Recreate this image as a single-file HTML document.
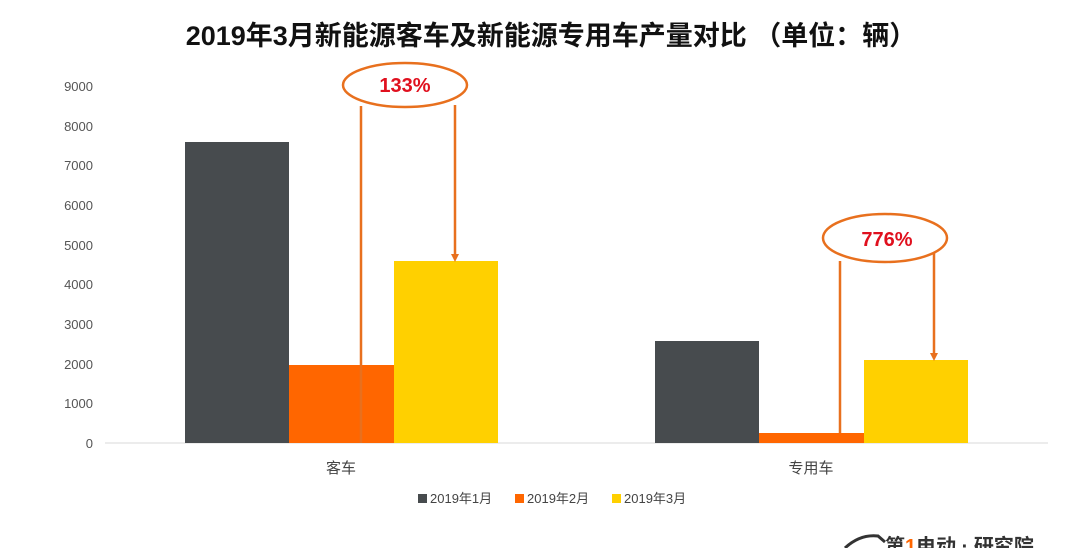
<!DOCTYPE html>
<html><head><meta charset="utf-8"><style>
body{margin:0;background:#fff;}
svg{display:block;font-family:"Liberation Sans","Noto Sans CJK SC",sans-serif;}
</style></head><body>
<svg width="1080" height="548" viewBox="0 0 1080 548">
<text x="551" y="45" text-anchor="middle" font-size="27" font-weight="bold" fill="#111">2019年3月新能源客车及新能源专用车产量对比 （单位：辆）</text>
<g font-size="13" fill="#555" text-anchor="end">
<text x="93" y="448">0</text><text x="93" y="408">1000</text><text x="93" y="369">2000</text><text x="93" y="329">3000</text><text x="93" y="289">4000</text><text x="93" y="250">5000</text><text x="93" y="210">6000</text><text x="93" y="170">7000</text><text x="93" y="131">8000</text><text x="93" y="91">9000</text>
</g>
<line x1="105" y1="443" x2="1048" y2="443" stroke="#d9d9d9"/>
<rect x="185" y="142" width="104" height="301" fill="#474b4e"/>
<rect x="289" y="365" width="105" height="78" fill="#ff6600"/>
<rect x="394" y="261" width="104" height="182" fill="#ffd000"/>
<rect x="655" y="341" width="104" height="102" fill="#474b4e"/>
<rect x="759" y="433" width="105" height="10" fill="#ff6600"/>
<rect x="864" y="360" width="104" height="83" fill="#ffd000"/>
<g stroke="#e8701e" stroke-width="2.5" fill="none">
<ellipse cx="405" cy="85" rx="62" ry="22"/>
<line x1="361" y1="106" x2="361" y2="443"/>
<line x1="455" y1="105" x2="455" y2="254"/>
<ellipse cx="885" cy="238" rx="62" ry="24"/>
<line x1="840" y1="261" x2="840" y2="433"/>
<line x1="934" y1="252" x2="934" y2="353"/>
</g>
<path d="M451,254 L459,254 L455,262 z" fill="#e8701e"/>
<path d="M930,353 L938,353 L934,361 z" fill="#e8701e"/>
<text x="405" y="92" text-anchor="middle" font-size="20" font-weight="bold" fill="#e0101e">133%</text>
<text x="887" y="246" text-anchor="middle" font-size="20" font-weight="bold" fill="#e0101e">776%</text>
<text x="341" y="473" text-anchor="middle" font-size="15" fill="#444">客车</text>
<text x="811" y="473" text-anchor="middle" font-size="15" fill="#444">专用车</text>
<g font-size="13" fill="#444">
<rect x="418" y="494" width="9" height="9" fill="#474b4e"/><text x="430" y="503">2019年1月</text>
<rect x="515" y="494" width="9" height="9" fill="#ff6600"/><text x="527" y="503">2019年2月</text>
<rect x="612" y="494" width="9" height="9" fill="#ffd000"/><text x="624" y="503">2019年3月</text>
</g>
<path d="M845,548 Q860,534 878,536 L885,542" stroke="#333" stroke-width="3" fill="none"/>
<text x="885" y="553" font-size="20" font-weight="bold" fill="#333">第<tspan fill="#ff6600">1</tspan>电动 · 研究院</text>
</svg>
</body></html>
